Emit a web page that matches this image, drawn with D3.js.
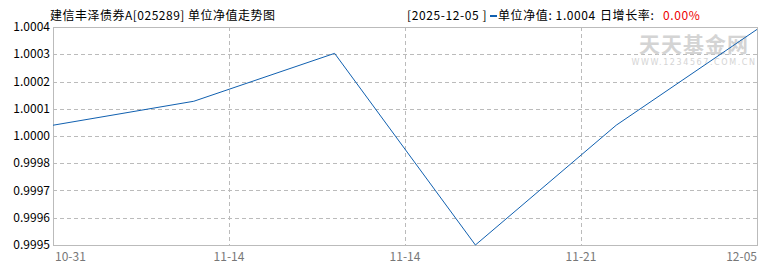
<!DOCTYPE html>
<html>
<head>
<meta charset="utf-8">
<script src="https://cdn.jsdelivr.net/npm/d3@7"></script>
<style>
    body { margin: 0; background: #fff; }
    svg { display: block; font-family: "Noto Sans CJK SC", sans-serif; }
</style>
</head>
<body>
<svg id="chart" width="770" height="270"></svg>
<script>
// NAV per week
const navDates = ['10-31', '11-07', '11-14', '11-21', '11-28', '12-05'];
const navValues = [1.0000, 1.0001, 1.0003, 0.9995, 1.0000, 1.0004];

// axis labels as printed on the chart
const yTickLabels = ['1.0004', '1.0003', '1.0002', '1.0001', '1.0000', '0.9998', '0.9997', '0.9996', '0.9995'];
const xTickLabels = ['10-31', '11-14', '11-14', '11-21', '12-05'];
const xTickIndex = [0, 1.25, 2.5, 3.75, 5];

// the chart pads the top a little
const yMin = 0.9995, yMax = 1.00041;

const size = { w: 770, h: 270 };
const margin = { top: 27, right: 13, bottom: 25, left: 53 };

let svg = d3.select('#chart');

let x = d3.scaleLinear()
    .domain([0, navDates.length - 1])
    .range([margin.left, size.w - margin.right]);

let y = d3.scaleLinear()
    .domain([yMin, yMax])
    .range([size.h - margin.bottom, margin.top]);

// evenly spaced tick positions, top to bottom
let yTicks = yTickLabels.map((d, i) => yMax - i * (yMax - yMin) / (yTickLabels.length - 1));

// horizontal grid
svg.append('g')
    .selectAll('line')
    .data(yTicks.slice(1, -1))
    .join('line')
    .attr('x1', margin.left)
    .attr('x2', size.w - margin.right)
    .attr('y1', d => Math.round(y(d)) + 0.5)
    .attr('y2', d => Math.round(y(d)) + 0.5)
    .attr('stroke', '#bbb')
    .attr('stroke-dasharray', '4,3');

// vertical grid
svg.append('g')
    .selectAll('line')
    .data(xTickIndex.slice(1, -1))
    .join('line')
    .attr('x1', d => Math.round(x(d)) + 0.5)
    .attr('x2', d => Math.round(x(d)) + 0.5)
    .attr('y1', margin.top)
    .attr('y2', size.h - margin.bottom)
    .attr('stroke', '#bbb')
    .attr('stroke-dasharray', '4,3');

// frame
svg.append('rect')
    .attr('x', margin.left + 0.5)
    .attr('y', margin.top + 0.5)
    .attr('width', size.w - margin.left - margin.right)
    .attr('height', size.h - margin.top - margin.bottom)
    .attr('fill', 'none')
    .attr('stroke', '#bbb');

// watermark
let wm = svg.append('g').attr('fill', '#d4d4d4');
wm.append('text')
    .attr('x', 694)
    .attr('y', 52)
    .attr('text-anchor', 'middle')
    .attr('font-size', 21)
    .attr('font-weight', 'bold')
    .attr('letter-spacing', 1)
    .text('天天基金网');
wm.append('text')
    .attr('x', 694)
    .attr('y', 65)
    .attr('text-anchor', 'middle')
    .attr('font-size', 8)
    .attr('font-family', 'DejaVu Sans')
    .attr('letter-spacing', 1.6)
    .text('WWW.1234567.COM.CN');

// y labels
svg.append('g')
    .selectAll('text')
    .data(yTicks)
    .join('text')
    .attr('x', margin.left - 3)
    .attr('y', d => y(d) + 4)
    .attr('text-anchor', 'end')
    .attr('font-size', 12)
    .attr('fill', '#000')
    .text((d, i) => yTickLabels[i]);

// x labels
svg.append('g')
    .selectAll('text')
    .data(xTickIndex)
    .join('text')
    .attr('x', d => x(d))
    .attr('y', size.h - 9)
    .attr('text-anchor', (d, i) => i === 0 ? 'start' : (i === xTickIndex.length - 1 ? 'end' : 'middle'))
    .attr('dx', (d, i) => i === 0 ? 2 : 0)
    .attr('font-size', 12)
    .attr('fill', '#777')
    .text((d, i) => xTickLabels[i]);

// NAV line
let line = d3.line()
    .x((d, i) => x(i))
    .y(d => y(d));

svg.append('path')
    .datum(navValues)
    .attr('d', line)
    .attr('fill', 'none')
    .attr('stroke', '#1060b0')
    .attr('stroke-width', 1);

// titles
svg.append('text')
    .attr('x', 50)
    .attr('y', 20)
    .attr('font-size', 12)
    .attr('letter-spacing', 0.5)
    .attr('fill', '#000')
    .text('建信丰泽债券A[025289] 单位净值走势图');

let head = svg.append('g')
    .attr('font-size', 12)
    .attr('fill', '#000');

head.append('text')
    .attr('x', 407)
    .attr('y', 20)
    .attr('letter-spacing', 0.6)
    .text('[2025-12-05 ]');

head.append('rect')
    .attr('x', 490)
    .attr('y', 15)
    .attr('width', 7)
    .attr('height', 2)
    .attr('fill', '#1060b0');

head.append('text')
    .attr('x', 498)
    .attr('y', 20)
    .attr('letter-spacing', 0.6)
    .text('单位净值: 1.0004');

head.append('text')
    .attr('x', 600)
    .attr('y', 20)
    .attr('letter-spacing', 0.6)
    .text('日增长率:');

head.append('text')
    .attr('x', 663)
    .attr('y', 20)
    .attr('fill', '#e00')
    .attr('letter-spacing', 0.6)
    .text('0.00%');
</script>
</body>
</html>
